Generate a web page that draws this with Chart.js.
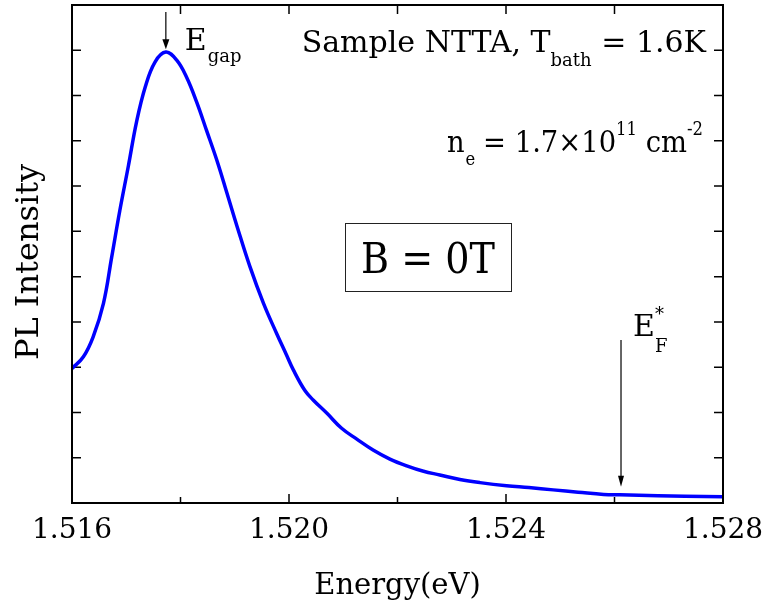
<!DOCTYPE html>
<html><head><meta charset="utf-8">
<script src="https://cdn.jsdelivr.net/npm/chart.js@4.4.0/dist/chart.umd.min.js"></script>
<style>html,body{margin:0;padding:0;background:#fff;}#wrap{width:766px;height:608px;}</style>
</head><body><div id="wrap"><canvas id="c" width="766" height="608"></canvas></div>
<script>
// ---- data ----
const energy = [1.5160, 1.51621, 1.51639, 1.51658, 1.51673, 1.51688, 1.51704, 1.51719, 1.51735, 1.51753,
  1.51773, 1.51793, 1.51811, 1.5183, 1.51848, 1.51867, 1.51885, 1.51904, 1.51928, 1.51953, 1.51977,
  1.51995, 1.52008, 1.52029, 1.52045, 1.5207, 1.52097, 1.52125, 1.52155, 1.52186, 1.52217, 1.52248,
  1.52278, 1.52315, 1.52352, 1.52401, 1.52442, 1.52487, 1.52533, 1.5258, 1.5261, 1.5268, 1.5273, 1.5280];
const intensity = [2.97, 3.23, 3.67, 4.41, 5.42, 6.45, 7.45, 8.42, 9.19, 9.74,
  9.96, 9.78, 9.41, 8.85, 8.23, 7.57, 6.87, 6.12, 5.22, 4.41, 3.75,
  3.28, 2.94, 2.49, 2.27, 1.98, 1.65, 1.41, 1.17, 0.97, 0.82, 0.70,
  0.62, 0.52, 0.45, 0.38, 0.34, 0.29, 0.24, 0.19, 0.18, 0.16, 0.15, 0.14];
const xTickValues = [1.516, 1.518, 1.520, 1.522, 1.524, 1.526, 1.528];
const xTickLabels = ['1.516', '', '1.520', '', '1.524', '', '1.528'];
const yTickValues = [0, 1, 2, 3, 4, 5, 6, 7, 8, 9, 10, 11];
const xTitle = 'Energy(eV)';
const yTitle = 'PL Intensity\u2002';
const egapEnergy = 1.51773;
const efEnergy = 1.52612;
const FONT = '"DejaVu Serif"';

function drawRuns(ctx, x, y, parts, align, targetW) {
  let w = 0;
  for (const p of parts) { ctx.font = p.s + 'px ' + FONT; w += ctx.measureText(p.t).width; }
  const k = targetW ? Math.min(1, targetW / w) : 1;
  const ww = w * k;
  let x0 = align === 'right' ? x - ww : (align === 'center' ? x - ww / 2 : x);
  ctx.save();
  ctx.translate(x0, y); ctx.scale(k, 1);
  let cx = 0;
  for (const p of parts) {
    ctx.font = p.s + 'px ' + FONT;
    ctx.fillText(p.t, cx + (p.dx || 0), (p.dy || 0));
    cx += ctx.measureText(p.t).width;
  }
  ctx.restore();
}
function arrow(ctx, x, y1, y2, hl, hw) {
  ctx.beginPath(); ctx.moveTo(x, y1); ctx.lineTo(x, y2 - hl + 1); ctx.stroke();
  ctx.beginPath(); ctx.moveTo(x, y2); ctx.lineTo(x - hw / 2, y2 - hl); ctx.lineTo(x + hw / 2, y2 - hl); ctx.closePath(); ctx.fill();
}

const ticksPlugin = {
  id: 'inTicks',
  beforeDatasetsDraw(chart) {
    const { ctx, chartArea: a, scales: { x, y } } = chart;
    ctx.save();
    ctx.strokeStyle = '#000'; ctx.lineWidth = 1.5;
    x.ticks.forEach((t, i) => {
      const px = x.getPixelForValue(t.value);
      const major = xTickLabels[i] !== '';
      ctx.beginPath();
      ctx.moveTo(px, a.bottom); ctx.lineTo(px, a.bottom - (major ? 9 : 6));
      ctx.moveTo(px, a.top); ctx.lineTo(px, a.top + 9);
      ctx.stroke();
    });
    y.ticks.forEach(t => {
      const py = y.getPixelForValue(t.value);
      ctx.beginPath();
      ctx.moveTo(a.left, py); ctx.lineTo(a.left + 9, py);
      ctx.moveTo(a.right, py); ctx.lineTo(a.right - 9, py);
      ctx.stroke();
    });
    ctx.restore();
  },
  afterDraw(chart) {
    const { ctx, chartArea: a, scales: { x, y } } = chart;
    ctx.save();
    ctx.strokeStyle = '#000'; ctx.lineWidth = 2;
    ctx.strokeRect(a.left, a.top, a.right - a.left, a.bottom - a.top);
    ctx.fillStyle = '#000'; ctx.textBaseline = 'alphabetic'; ctx.textAlign = 'left';
    // E_gap arrow + label
    ctx.lineWidth = 1.2;
    const gx = x.getPixelForValue(egapEnergy);
    arrow(ctx, gx, a.top + 7, y.getPixelForValue(10) - 1, 10, 7);
    drawRuns(ctx, gx + 19, a.top + 45, [{ t: 'E', s: 30 }, { t: 'gap', s: 18, dy: 12, dx: 1 }]);
    // E_F* arrow + label
    const fx = x.getPixelForValue(efEnergy);
    arrow(ctx, fx, a.top + 335, y.getPixelForValue(0.36), 11, 6);
    drawRuns(ctx, fx + 12, a.top + 331, [{ t: 'E', s: 30 }]);
    ctx.font = '18px ' + FONT;
    ctx.fillText('*', fx + 34, a.top + 315);
    ctx.fillText('F', fx + 34, a.top + 347);
    // text
    drawRuns(ctx, 706, a.top + 47, [{ t: 'Sample NTTA, T', s: 30 }, { t: 'bath', s: 18, dy: 14 }, { t: ' = 1.6K', s: 30 }], 'right', 408);
    drawRuns(ctx, 703, a.top + 147, [{ t: 'n', s: 30 }, { t: 'e', s: 18, dy: 13, dx: 1 }, { t: ' = 1.7\u00d710', s: 30 }, { t: '11', s: 18, dy: -17 }, { t: ' cm', s: 30 }, { t: '-2', s: 18, dy: -17 }], 'right', 256);
    // B = 0T box
    ctx.lineWidth = 1; ctx.strokeStyle = '#222';
    ctx.strokeRect(345.5, 223.5, 166, 68);
    drawRuns(ctx, 428, 273, [{ t: 'B = 0T', s: 42 }], 'center', 134);
    ctx.restore();
  }
};

const chart = new Chart(document.getElementById('c'), {
  type: 'line',
  data: {
    datasets: [{
      data: energy.map((e, i) => ({ x: e, y: intensity[i] })),
      borderColor: '#0000ff', borderWidth: 3.5, pointRadius: 0, fill: false,
      tension: 0.4
    }]
  },
  options: {
    responsive: false, animation: false, devicePixelRatio: 1,
    layout: { padding: { left: 0, top: 5, right: 43, bottom: 0 } },
    plugins: { legend: { display: false }, tooltip: { enabled: false } },
    scales: {
      x: {
        type: 'linear', min: 1.516, max: 1.528,
        afterBuildTicks: s => { s.ticks = xTickValues.map(v => ({ value: v })); },
        afterFit: s => { s.height = 105; },
        grid: { display: false, drawTicks: false }, border: { display: false },
        ticks: { autoSkip: false, maxRotation: 0, padding: 2, color: '#000',
          font: { family: 'DejaVu Serif', size: 28, lineHeight: 1.84 },
          callback: (v, i) => xTickLabels[i] },
        title: { display: true, text: xTitle, color: '#000', font: { family: 'DejaVu Serif', size: 29 }, padding: { top: 0, bottom: 4 } }
      },
      y: {
        type: 'linear', min: 0, max: 11,
        afterBuildTicks: s => { s.ticks = yTickValues.map(v => ({ value: v })); },
        afterFit: s => { s.width = 72; },
        grid: { display: false, drawTicks: false }, border: { display: false },
        ticks: { display: false },
        title: { display: true, text: yTitle, color: '#000', font: { family: 'DejaVu Serif', size: 32 }, padding: { top: 10, bottom: 0 } }
      }
    }
  },
  plugins: [ticksPlugin]
});
</script></body></html>
